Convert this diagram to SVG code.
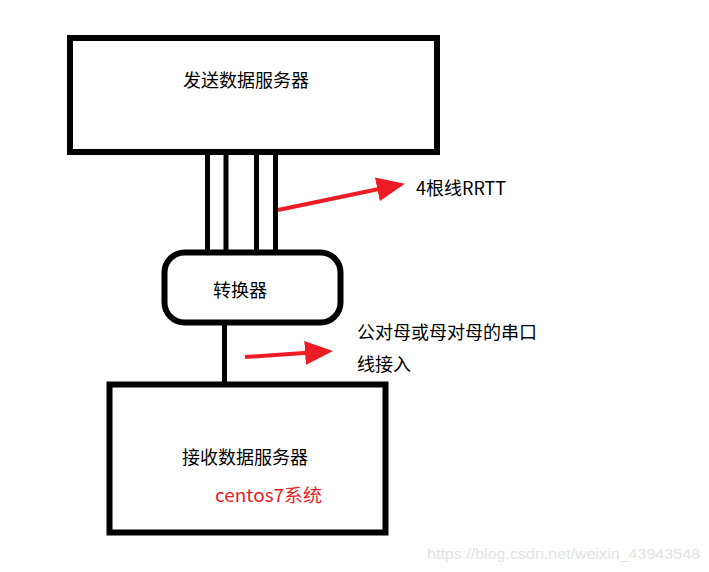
<svg xmlns="http://www.w3.org/2000/svg" width="709" height="572" viewBox="0 0 709 572">
<style>
.box{fill:none;stroke:#000;stroke-width:6}
.wire{stroke:#000;stroke-width:5;fill:none}
.red{stroke:#ed1c24;stroke-width:4;fill:none}
.t{font-family:"Microsoft YaHei","Noto Sans CJK SC",sans-serif;font-size:18px;fill:#000}
.rt{fill:#ed1c24}
.wm{font-family:"Liberation Sans",Arial,sans-serif;font-size:15px;fill:#e3e3e3}
</style>
<defs>
<marker id="ah" markerWidth="8" markerHeight="6" refX="5" refY="3" orient="auto" markerUnits="strokeWidth">
<path d="M0,0 L7,3 L0,6 Z" fill="#ed1c24"/>
</marker>
</defs>
<rect width="709" height="572" fill="#fff"/>
<g id="connectors">
<line class="wire" x1="207.5" y1="153" x2="207.5" y2="252"/>
<line class="wire" x1="226" y1="153" x2="226" y2="252"/>
<line class="wire" x1="256.5" y1="153" x2="256.5" y2="252"/>
<line class="wire" x1="275.5" y1="153" x2="275.5" y2="252"/>
<line class="wire" x1="224.5" y1="320" x2="224.5" y2="386"/>
<line class="red" x1="278" y1="210" x2="397" y2="185.3" marker-end="url(#ah)"/>
<line class="red" x1="245" y1="357" x2="325" y2="351.6" marker-end="url(#ah)"/>
</g>
<g id="sender">
<rect class="box" x="70" y="38" width="367" height="114"/>
<text class="t" x="183" y="87">发送数据服务器</text>
</g>
<g id="converter">
<rect class="box" x="164.5" y="252.5" width="176" height="70" rx="20" ry="20" stroke-width="5"/>
<text class="t" x="213" y="297">转换器</text>
</g>
<g id="receiver">
<rect class="box" x="109.5" y="384.5" width="276" height="148" stroke-width="5"/>
<text class="t" x="182" y="464">接收数据服务器</text>
<text class="t rt" x="215" y="502" textLength="107" lengthAdjust="spacingAndGlyphs">centos7系统</text>
</g>
<g id="labels">
<text class="t" x="416" y="195">4根线RRTT</text>
<text class="t" x="357" y="339">公对母或母对母的串口</text>
<text class="t" x="357" y="371">线接入</text>
<text class="wm" x="427" y="559" textLength="273" lengthAdjust="spacingAndGlyphs">https://blog.csdn.net/weixin_43943548</text>
</g>
</svg>
